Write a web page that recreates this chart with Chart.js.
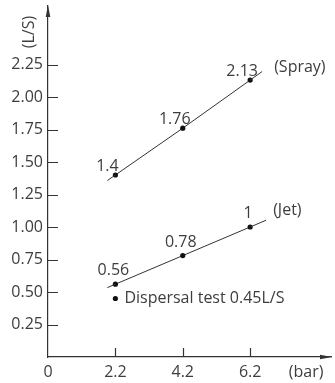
<!DOCTYPE html>
<html>
<head>
<meta charset="utf-8">
<script src="https://cdn.jsdelivr.net/npm/chart.js@4"></script>
<style>
  body { margin: 0; background: #fff; }
  #wrap { width: 335px; height: 383px; position: relative; }
</style>
</head>
<body>
<div id="wrap"><canvas id="chart"></canvas></div>
<script>
// axis labels
const xLabels = ['0', '2.2', '4.2', '6.2'];
const xUnit = '(bar)';
const yUnit = '(L/S)';
const yTicks = [0.25, 0.5, 0.75, 1, 1.25, 1.5, 1.75, 2, 2.25];

// measured flow per nozzle pressure
const pressures = ['2.2', '4.2', '6.2'];
const sprayFlow = [1.4, 1.76, 2.13];
const jetFlow = [0.56, 0.78, 1];
const seriesNames = ['(Spray)', '(Jet)'];

// single dispersal test point
const dispersalPressure = '2.2';
const dispersalFlow = 0.45;

const ink = '#333';
const textInk = '#3d3d3d';
const font = '"Open Sans", "Liberation Sans", sans-serif';

// where the unit labels sit, in axis units
const xUnitAt = 3.83;
const yUnitAt = 2.5;

// per series: value label offset, name offset, line extension (px)
const seriesStyle = [
    { label: [-8, -4], name: [24, -8], ext: [8, 12] },
    { label: [-2, -9], name: [23, -12], ext: [8, 16] }
];

const xPos = p => xLabels.indexOf(p);

const decorations = {
    id: 'decorations',
    afterDatasetsDraw(chart) {
        const { ctx, chartArea: a, scales: { x, y } } = chart;
        ctx.save();
        ctx.strokeStyle = ink;
        ctx.fillStyle = ink;
        ctx.lineWidth = 1.2;

        // inward tick marks
        ctx.beginPath();
        yTicks.forEach(v => {
            const py = Math.round(y.getPixelForValue(v)) + 0.5;
            ctx.moveTo(a.left, py);
            ctx.lineTo(a.left + 10, py);
        });
        xLabels.forEach((l, i) => {
            if (i === 0) return;
            const px = Math.round(x.getPixelForValue(i)) + 0.5;
            ctx.moveTo(px, a.bottom);
            ctx.lineTo(px, a.bottom - 9);
        });
        ctx.stroke();

        // arrow heads
        ctx.beginPath();
        ctx.moveTo(a.left, a.top - 1);
        ctx.lineTo(a.left - 2.3, a.top + 11);
        ctx.lineTo(a.left + 2.3, a.top + 11);
        ctx.closePath();
        ctx.moveTo(a.right + 1, a.bottom);
        ctx.lineTo(a.right - 11, a.bottom - 2.3);
        ctx.lineTo(a.right - 11, a.bottom + 2.3);
        ctx.closePath();
        ctx.fill();

        ctx.font = '16px ' + font;

        // series: extended ends, value labels, names
        [sprayFlow, jetFlow].forEach((vals, di) => {
            const pts = chart.getDatasetMeta(di).data;
            const st = seriesStyle[di];
            const p0 = pts[0], p1 = pts[1];
            const q0 = pts[pts.length - 2], q1 = pts[pts.length - 1];
            const s0 = (p1.y - p0.y) / (p1.x - p0.x);
            const s1 = (q1.y - q0.y) / (q1.x - q0.x);
            ctx.lineWidth = 1;
            ctx.beginPath();
            ctx.moveTo(p0.x - st.ext[0], p0.y - s0 * st.ext[0]);
            ctx.lineTo(p0.x, p0.y);
            ctx.moveTo(q1.x, q1.y);
            ctx.lineTo(q1.x + st.ext[1], q1.y + s1 * st.ext[1]);
            ctx.stroke();

            ctx.fillStyle = textInk;
            ctx.textAlign = 'center';
            ctx.textBaseline = 'alphabetic';
            vals.forEach((v, i) => {
                ctx.fillText(String(v), pts[i].x + st.label[0], pts[i].y + st.label[1]);
            });
            ctx.textAlign = 'left';
            ctx.fillText(seriesNames[di], q1.x + st.name[0], q1.y + st.name[1]);
        });

        // dispersal test note
        const dp = chart.getDatasetMeta(2).data[0];
        ctx.textAlign = 'left';
        ctx.textBaseline = 'middle';
        ctx.fillText('Dispersal test ' + dispersalFlow + 'L/S', dp.x + 9, dp.y);

        // y unit, rotated
        ctx.translate(29.5, y.getPixelForValue(yUnitAt));
        ctx.rotate(-Math.PI / 2);
        ctx.textAlign = 'center';
        ctx.fillText(yUnit, 0, 0);
        ctx.restore();
    }
};

const pointStyle = {
    showLine: true,
    borderColor: ink,
    borderWidth: 1,
    pointRadius: 2.6,
    pointBackgroundColor: '#111',
    pointBorderWidth: 0
};

new Chart(document.getElementById('chart'), {
    type: 'scatter',
    data: {
        datasets: [
            { ...pointStyle, label: seriesNames[0], data: pressures.map((p, i) => ({ x: xPos(p), y: sprayFlow[i] })) },
            { ...pointStyle, label: seriesNames[1], data: pressures.map((p, i) => ({ x: xPos(p), y: jetFlow[i] })) },
            { ...pointStyle, showLine: false, label: 'Dispersal test', data: [{ x: xPos(dispersalPressure), y: dispersalFlow }] }
        ]
    },
    options: {
        responsive: true,
        maintainAspectRatio: false,
        animation: false,
        events: [],
        layout: { padding: { top: 6, right: 1, left: 0, bottom: 0 } },
        plugins: { legend: { display: false }, tooltip: { enabled: false } },
        scales: {
            x: {
                type: 'linear',
                min: 0,
                max: 4.2,
                grid: { display: false, drawTicks: false },
                border: { display: true, color: ink, width: 1.2 },
                afterBuildTicks: s => {
                    s.ticks = xLabels.map((l, i) => ({ value: i })).concat([{ value: xUnitAt }]);
                },
                afterFit: s => {
                    s.height = 26;
                    s.paddingLeft = 0;
                    s.paddingRight = 0;
                },
                ticks: {
                    autoSkip: false,
                    maxRotation: 0,
                    padding: 6,
                    color: textInk,
                    font: { family: font, size: 16 },
                    callback: v => (v === xUnitAt ? xUnit : xLabels[v])
                }
            },
            y: {
                min: 0,
                max: 2.7,
                grid: { display: false, drawTicks: false },
                border: { display: true, color: ink, width: 1.2 },
                afterBuildTicks: s => {
                    s.ticks = yTicks.map(v => ({ value: v }));
                },
                afterFit: s => {
                    s.width = 48;
                    s.paddingTop = 0;
                    s.paddingBottom = 0;
                },
                ticks: {
                    padding: 5,
                    color: textInk,
                    font: { family: font, size: 16 },
                    callback: v => v.toFixed(2)
                }
            }
        }
    },
    plugins: [decorations]
});
</script>
</body>
</html>
